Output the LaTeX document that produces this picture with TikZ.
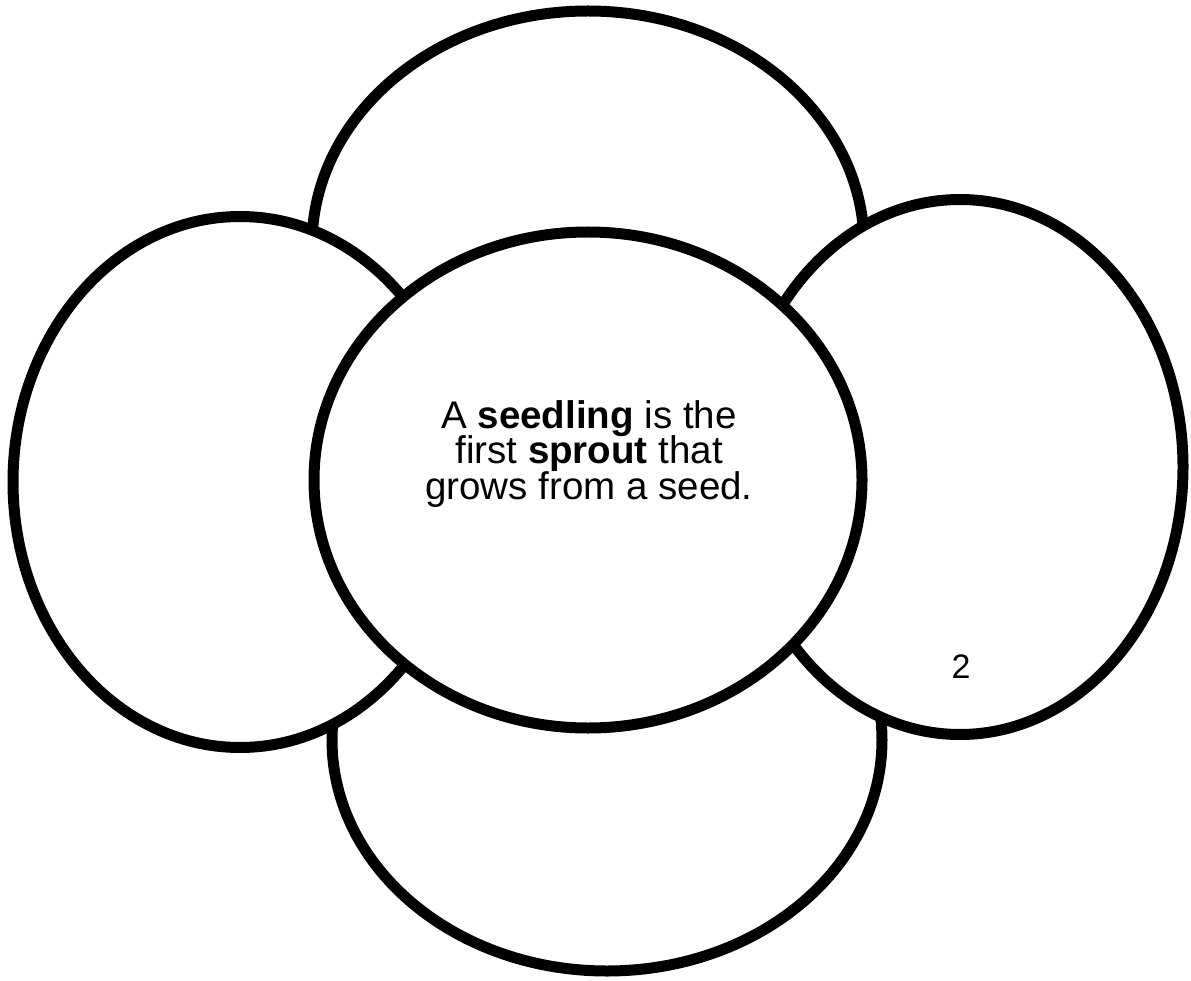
\documentclass[tikz,border=0pt]{standalone}
\usepackage{fontspec}
\setmainfont{Liberation Sans}
\usetikzlibrary{shapes.geometric}
\newcommand{\petaltextfont}{\fontsize{38.5}{35.3}\selectfont\setlength{\lineskiplimit}{-20pt}}
\begin{document}
\begin{tikzpicture}[x=1pt,y=-1pt,
  petal/.style={ellipse, draw=black, fill=white, line width=11pt, inner sep=0pt},
  txt/.style={font=\petaltextfont, align=center, inner sep=0pt}]
\useasboundingbox (0,0) rectangle (1191,981);
\node[petal, minimum width=552pt, minimum height=468pt] (top) at (588,245) {};
\node[petal, minimum width=550pt, minimum height=462pt] (bottom) at (607,740) {};
\node[petal, minimum width=454pt, minimum height=531pt] (left) at (240,482) {};
\node[petal, minimum width=446pt, minimum height=535pt] (right) at (960,467) {};
\node[petal, minimum width=548pt, minimum height=496pt] (center) at (588,480) {};
\node[txt] (label) at (589,454) {A \textbf{seedling} is the\\first \textbf{sprout} that\\grows from a seed.};
\node[txt, font=\fontsize{34}{36}\selectfont] (num) at (961,667) {2};
\end{tikzpicture}
\end{document}
